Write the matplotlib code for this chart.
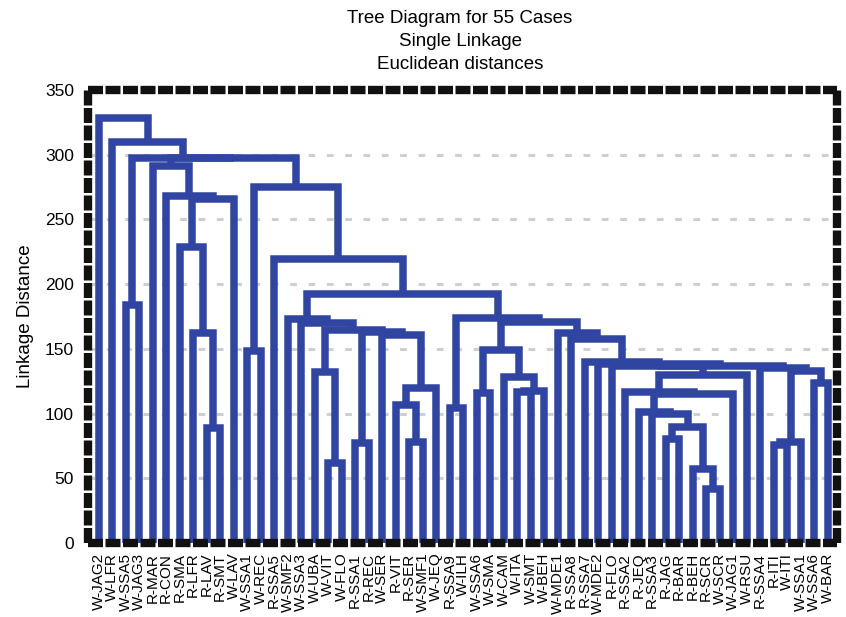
import numpy as np
import matplotlib
matplotlib.use("Agg")
from matplotlib import pyplot as plt

# Leaf labels, left to right as they sit on the x axis.
leaf_labels = ["W-JAG2", "W-LFR", "W-SSA5", "W-JAG3", "R-MAR", "R-CON", "R-SMA", "R-LFR",
               "R-LAV", "R-SMT", "W-LAV", "W-SSA1", "W-REC", "R-SSA5", "W-SMF2", "W-SSA3",
               "W-UBA", "W-VIT", "W-FLO", "R-SSA1", "R-REC", "W-SER", "R-VIT", "R-SER",
               "W-SMF1", "W-JEQ", "R-SSA9", "W-ILH", "W-SSA6", "W-SMA", "W-CAM", "W-ITA",
               "W-SMT", "W-BEH", "W-MDE1", "R-SSA8", "R-SSA7", "W-MDE2", "R-FLO", "R-SSA2",
               "R-JEQ", "R-SSA3", "R-JAG", "R-BAR", "R-BEH", "R-SCR", "W-SCR", "W-JAG1",
               "W-RSU", "R-SSA4", "R-ITI", "W-ITI", "W-SSA1", "W-SSA6", "W-BAR"]

# Linkage: ids < 55 are leaves, id 55+k is the k-th merge below.
merge_left = [45, 44, 17, 50, 19, 58, 23, 42, 8, 62,
              41, 40, 26, 22, 66, 28, 39, 31, 72, 68,
              53, 30, 71, 16, 60, 49, 38, 81, 37, 36,
              11, 70, 35, 21, 7, 34, 59, 78, 15, 86,
              14, 67, 2, 95, 13, 6, 100, 5, 85, 4,
              104, 97, 1, 0]
merge_right = [46, 55, 18, 51, 20, 52, 24, 43, 9, 56,
               64, 65, 27, 61, 47, 29, 69, 32, 33, 25,
               54, 73, 48, 57, 75, 79, 77, 80, 82, 83,
               12, 76, 84, 74, 63, 87, 88, 91, 92, 90,
               93, 94, 3, 96, 98, 89, 10, 101, 99, 102,
               103, 105, 106, 107]
merge_height = [42, 57, 62, 76, 77, 78, 78, 80, 89, 90,
                99.5, 101.5, 104, 107, 115, 116, 116.5, 117, 117.5, 120,
                124, 128.5, 130, 132, 133, 135.5, 136.5, 137, 138.5, 140,
                148.5, 149.5, 158, 161, 162, 162.5, 163, 164.5, 170, 171,
                173, 174, 184, 192, 219.5, 229, 266, 268, 275, 291.5,
                297.2, 297.7, 309.5, 328]

n_leaf = len(leaf_labels)
xpos = list(range(n_leaf))
hpos = [0.0] * n_leaf

fig = plt.figure(figsize=(8.46, 6.17), dpi=100)
ax = fig.add_axes([88 / 846, 1 - 543 / 617, (837 - 88) / 846, (543 - 90) / 617])

blue = "#2f45a1"
for a, b, h in zip(merge_left, merge_right, merge_height):
    xa, xb = xpos[a], xpos[b]
    ax.plot([xa, xa, xb, xb], [hpos[a], h, h, hpos[b]], color=blue, lw=5.4,
            solid_joinstyle="miter", solid_capstyle="butt", zorder=3)
    xpos.append((xa + xb) / 2)
    hpos.append(h)

ax.set_xlim(-(98.7 - 88) / 13.5, 54 + (837 - 827.7) / 13.5)
ax.set_ylim(0, 350)
ax.set_yticks(np.arange(0, 351, 50))
ax.set_xticks(range(n_leaf))
ax.set_xticklabels(leaf_labels, rotation=90, fontsize=11, family="Liberation Sans")
for lab in ax.get_yticklabels():
    lab.set_fontsize(12.5)
    lab.set_family("Liberation Sans")
ax.tick_params(axis="both", length=0)
ax.tick_params(axis="x", pad=7)
ax.tick_params(axis="y", pad=10)

for yv in range(50, 350, 50):
    ax.axhline(yv, color="#cfcfcf", lw=2.2, linestyle=(0, (2.2, 3.8)), zorder=1)

for sp in ax.spines.values():
    sp.set_linewidth(6)
    sp.set_color("#111111")
    sp.set_linestyle((0, (1.8, 0.3)))
    sp.set_capstyle("butt")
    sp.set_zorder(5)

ax.set_ylabel("Linkage Distance", fontsize=13.5, family="Liberation Sans", labelpad=8)

fig.text(460 / 846, 1 - 10 / 617, "Tree Diagram for 55 Cases\nSingle Linkage\nEuclidean distances",
         ha="center", va="top", fontsize=13.5, family="Liberation Sans", linespacing=1.45)

fig.savefig("out.png", dpi=100)
